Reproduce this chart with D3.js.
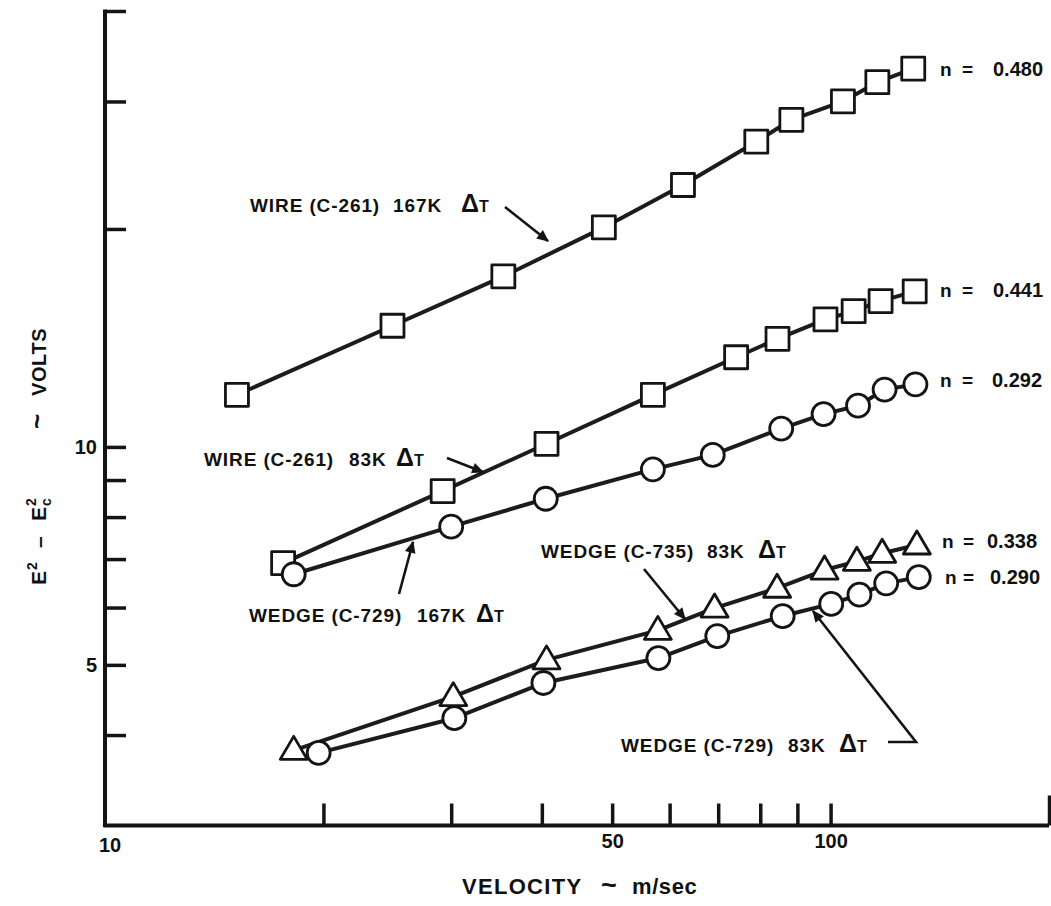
<!DOCTYPE html>
<html>
<head>
<meta charset="utf-8">
<script src="https://cdn.jsdelivr.net/npm/d3@7"></script>
<style>
  html, body { margin: 0; padding: 0; background: #fff; }
  svg text { font-family: "Liberation Sans", Arial, Helvetica, sans-serif; font-weight: bold; fill: #111; }
</style>
</head>
<body>
<svg id="chart" width="1051" height="906"></svg>
<script>
// ---- data (log-log plot) ----
const velWire167 = [15.2, 24.9, 35.4, 48.7, 62.6, 79.0, 88.3, 104, 116, 130];
const voltWire167 = [11.8, 14.7, 17.2, 20.1, 23.0, 26.4, 28.3, 30.0, 31.9, 33.3];

const velWire83 = [17.6, 29.2, 40.6, 56.9, 74.1, 84.5, 98.4, 107.6, 117.2, 130.6];
const voltWire83 = [6.91, 8.69, 10.1, 11.8, 13.3, 14.1, 15.0, 15.4, 15.9, 16.4];

const velWedge729h = [18.2, 30.0, 40.5, 56.9, 68.8, 85.5, 97.8, 109.1, 118.7, 130.9];
const voltWedge729h = [6.67, 7.76, 8.48, 9.31, 9.75, 10.6, 11.1, 11.4, 12.0, 12.2];

const velWedge735 = [18.2, 30.2, 40.6, 57.8, 69.2, 84.4, 98.1, 108.7, 117.8, 131.5];
const voltWedge735 = [3.81, 4.52, 5.08, 5.58, 5.99, 6.38, 6.76, 6.95, 7.13, 7.32];

const velWedge729l = [19.7, 30.3, 40.2, 57.9, 69.8, 85.9, 100.2, 109.6, 119.3, 132.3];
const voltWedge729l = [3.78, 4.22, 4.72, 5.11, 5.48, 5.84, 6.07, 6.25, 6.48, 6.61];

const probeNames = ["WIRE (C-261)", "WIRE (C-261)", "WEDGE (C-729)", "WEDGE (C-735)", "WEDGE (C-729)"];
const overheats = ["167K", "83K", "167K", "83K", "83K"];
const seriesShapes = ["square", "square", "circle", "triangle", "circle"];
const exponents = ["0.480", "0.441", "0.292", "0.338", "0.290"];

const xTickValues = [20, 30, 40, 50, 60, 70, 80, 90, 100, 200];
const xTickLabels = [10, 50, 100];
const yTickValues = [4, 5, 6, 7, 8, 9, 10, 20, 30, 40];
const yTickLabels = [5, 10];

const xDomain = [10, 200];
const yDomain = [3, 40];

// ---- drawing ----
const svg = d3.select("#chart");
const x = d3.scaleLog().domain(xDomain).range([105, 1049]);
const y = d3.scaleLog().domain(yDomain).range([825.5, 11]);

const ink = "#141414";
const FONT = "Liberation Sans, Arial, sans-serif";

// arrowhead marker
svg.append("defs").append("marker")
  .attr("id", "ah").attr("viewBox", "0 0 10 10").attr("refX", 9).attr("refY", 5)
  .attr("markerWidth", 18).attr("markerHeight", 12).attr("markerUnits", "userSpaceOnUse")
  .attr("orient", "auto")
  .append("path").attr("d", "M0,0.5 L10,5 L0,9.5 Z").attr("fill", ink);

// axes
const yAxis = d3.axisLeft(y).tickValues(yTickValues).tickSize(-21).tickPadding(8)
  .tickFormat(d => yTickLabels.includes(d) ? String(d) : "");
const gy = svg.append("g").attr("transform", `translate(${x(xDomain[0])},0)`).call(yAxis);
gy.select(".domain").remove();
gy.selectAll(".tick line").attr("stroke", ink).attr("stroke-width", 3.5);
gy.selectAll(".tick text").attr("font-size", 20).attr("font-weight", "bold")
  .attr("font-family", FONT).attr("fill", ink);

const xAxis = d3.axisBottom(x).tickValues(xTickValues).tickSize(-22).tickPadding(8)
  .tickFormat(d => xTickLabels.includes(d) ? String(d) : "");
const gx = svg.append("g").attr("transform", `translate(0,${y(yDomain[0])})`).call(xAxis);
gx.select(".domain").remove();
gx.selectAll(".tick line").attr("stroke", ink).attr("stroke-width", 3.5);
gx.selectAll(".tick").filter(d => d === 200).select("line").attr("y2", -30);
gx.selectAll(".tick text").attr("font-size", 20).attr("font-weight", "bold")
  .attr("font-family", FONT).attr("fill", ink);
// "10" label at the origin of the x axis
gx.append("text").attr("x", x(10) + 5).attr("y", 26).attr("text-anchor", "middle")
  .attr("font-size", 20).text(String(xTickLabels[0]));

// axis frame lines (left and bottom)
svg.append("line").attr("x1", x(xDomain[0])).attr("x2", x(xDomain[0]))
  .attr("y1", y(yDomain[1]) - 1.5).attr("y2", y(yDomain[0]) + 1.5)
  .attr("stroke", ink).attr("stroke-width", 4);
svg.append("line").attr("x1", x(xDomain[0]) - 1.5).attr("x2", x(xDomain[1]))
  .attr("y1", y(yDomain[0])).attr("y2", y(yDomain[0]))
  .attr("stroke", ink).attr("stroke-width", 4);

// series
const allSeries = [
  [velWire167, voltWire167],
  [velWire83, voltWire83],
  [velWedge729h, voltWedge729h],
  [velWedge735, voltWedge735],
  [velWedge729l, voltWedge729l]
].map(([vx, vy], i) => ({ shape: seriesShapes[i], n: exponents[i],
  pts: vx.map((v, j) => [v, vy[j]]) }));

const line = d3.line().x(d => x(d[0])).y(d => y(d[1]));
svg.append("g").selectAll("path").data(allSeries).join("path")
  .attr("d", s => line(s.pts)).attr("fill", "none")
  .attr("stroke", "#1c1c1c").attr("stroke-width", 4).attr("stroke-linejoin", "round");

const shapePaths = {
  square: "M-11.5,-11.5 H11.5 V11.5 H-11.5 Z",
  circle: "M11.5,0 A11.5,11.5 0 1,1 -11.5,0 A11.5,11.5 0 1,1 11.5,0 Z",
  triangle: "M0,-14 L13.5,9 L-13.5,9 Z"
};
const mg = svg.append("g");
allSeries.forEach(s => {
  mg.append("g").selectAll("path").data(s.pts).join("path")
    .attr("transform", d => `translate(${x(d[0])},${y(d[1])})`)
    .attr("d", shapePaths[s.shape])
    .attr("fill", "#fff").attr("stroke", ink).attr("stroke-width", 2.8)
    .attr("stroke-linejoin", "round");
});

// exponent labels beside last points
const nPos = [[940, 962, 993, 76], [940, 962, 993, 297], [940, 962, 992, 387], [942, 963, 987, 548], [945, 963, 990, 584]];
allSeries.forEach((s, i) => {
  const [xn, xe, xv, yb] = nPos[i];
  svg.append("text").attr("x", xn).attr("y", yb).attr("font-size", 19).text("n");
  svg.append("text").attr("x", xe).attr("y", yb).attr("font-size", 19).text("=");
  svg.append("text").attr("x", xv).attr("y", yb).attr("font-size", 20).text(s.n);
});

// series annotations with delta-T
function label(i, xName, xTemp, xDelta, yb) {
  const t = svg.append("text").attr("y", yb).attr("font-size", 19).attr("letter-spacing", 0.9);
  t.append("tspan").attr("x", xName).text(probeNames[i]);
  t.append("tspan").attr("x", xTemp).text(overheats[i]);
  t.append("tspan").attr("x", xDelta).attr("font-size", 25).attr("letter-spacing", 0).text("\u0394");
  t.append("tspan").attr("font-size", 16).attr("dx", 0).text("T");
}
label(0, 250, 393, 461, 212);
label(1, 204, 349, 396, 466);
label(2, 249, 417, 476, 622);
label(3, 541, 707, 758, 558);
label(4, 621, 788, 839, 752);

function arrow(points) {
  svg.append("path").attr("d", d3.line()(points)).attr("fill", "none")
    .attr("stroke", ink).attr("stroke-width", 2.6).attr("marker-end", "url(#ah)");
}
arrow([[505, 207], [548, 241]]);
arrow([[447, 458], [483, 472]]);
arrow([[399, 594], [413, 542]]);
arrow([[644, 569], [685, 619]]);
arrow([[888, 742], [916, 742], [813, 611]]);

// x axis title
const xt = svg.append("text").attr("y", 894).attr("font-size", 22);
xt.append("tspan").attr("x", 462).attr("letter-spacing", 1.3).text("VELOCITY");
xt.append("tspan").attr("x", 601).attr("font-size", 27).text("~");
xt.append("tspan").attr("x", 632).attr("letter-spacing", 0.6).text("m/sec");

// y axis title (rotated, pieces placed along the axis)
function ypiece(yStart, txt, size, shift, ls) {
  svg.append("text").attr("transform", `translate(${46 + shift},${yStart}) rotate(-90)`)
    .attr("font-size", size).attr("letter-spacing", ls || 0).text(txt);
}
ypiece(585, "E", 21, 0);
ypiece(570, "2", 14, -9);
ypiece(548, "\u2013", 21, 0);
ypiece(521, "E", 21, 0);
ypiece(506, "c", 14, 5);
ypiece(506, "2", 14, -10);
ypiece(429, "~", 26, 0);
ypiece(396, "VOLTS", 20, 0, 0.6);
</script>
</body>
</html>
